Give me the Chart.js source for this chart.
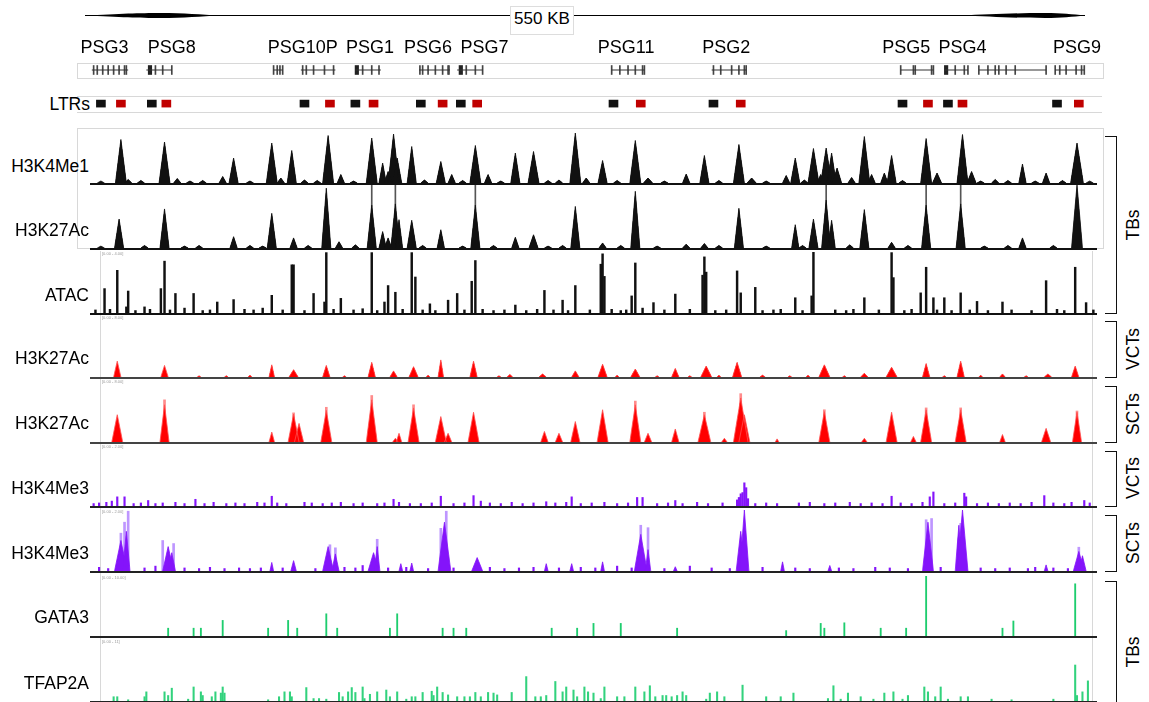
<!DOCTYPE html>
<html>
<head>
<meta charset="utf-8">
<script src="https://cdn.jsdelivr.net/npm/chart.js@4.4.0/dist/chart.umd.min.js"></script>
<style>
  body { margin: 0; background: #fff; width: 1149px; height: 702px; overflow: hidden; position: relative;
         font-family: "Liberation Sans", Arial, sans-serif; color: #000; }
  canvas { position: absolute; }
  .lbl { position: absolute; left: 0; width: 89px; text-align: right; font-size: 17.5px; line-height: 20px; white-space: nowrap; }
  .gene { position: absolute; top: 37px; font-size: 18px; line-height: 20px; transform: translateX(-50%); white-space: nowrap; }
  .rng { position: absolute; left: 102px; font-size: 4px; line-height: 4px; color: #999; }
  .brk { position: absolute; left: 1105px; width: 11px; border: 1.5px solid #111; border-left: none; }
  .side { position: absolute; left: 1133px; font-size: 17.5px; line-height: 20px; white-space: nowrap;
          transform: translate(-50%, -50%) rotate(-90deg); }
  .box { position: absolute; border: 1px solid #d8d8d8; }
</style>
</head>
<body>
<svg style="position:absolute;left:0;top:0" width="1149" height="40">
  <line x1="85" y1="15.5" x2="1085" y2="15.5" stroke="#000" stroke-width="1"/>
  <path d="M85 15.5 C120 13.8 140 13 160 13 C185 13 200 14.6 220 15.5 C200 16.4 185 18 160 18 C140 18 120 17.2 85 15.5 Z" fill="#000"/>
  <path d="M960 15.5 C990 14.6 1010 13 1045 13 C1062 13 1072 14.2 1085 15.5 C1072 16.8 1062 18 1045 18 C1010 18 990 16.4 960 15.5 Z" fill="#000"/>
</svg>
<div class="box" style="left:510px;top:6px;width:62px;height:27px;background:#fff;border-color:#ddd;"></div>
<div style="position:absolute;left:510px;top:9px;width:64px;text-align:center;font-size:17px;line-height:20px;">550 KB</div>

<div class="box" style="left:77px;top:63px;width:1025px;height:14px;"></div>
<div class="box" style="left:77px;top:96px;width:1025px;height:15px;border-left:none;border-right:none;"></div>
<div class="lbl" style="top:94px;width:90px;">LTRs</div>

<div class="box" style="left:77px;top:128px;width:1025px;height:119px;"></div>
<div style="position:absolute;left:100px;top:251px;width:1px;height:451px;background:#d8d8d8;"></div>
<div style="position:absolute;left:1092px;top:251px;width:1px;height:451px;background:#d8d8d8;"></div>

<div class="brk" style="top:136px;height:176px;"></div>
<div class="brk" style="top:321px;height:55px;"></div>
<div class="brk" style="top:386px;height:55px;"></div>
<div class="brk" style="top:451px;height:54px;"></div>
<div class="brk" style="top:515px;height:55px;"></div>
<div class="brk" style="top:581px;height:140px;"></div>
<div class="side" style="top:225px;">TBs</div>
<div class="side" style="top:349px;">VCTs</div>
<div class="side" style="top:414px;">SCTs</div>
<div class="side" style="top:478px;">VCTs</div>
<div class="side" style="top:543px;">SCTs</div>
<div class="side" style="top:652px;">TBs</div>

<script>
// window is 550 kb wide; positions below are in kb from the left edge
const kbMax = 554;

const geneNames = ["PSG3", "PSG8", "PSG10P", "PSG1", "PSG6", "PSG7", "PSG11", "PSG2", "PSG5", "PSG4", "PSG9"];
const geneLabelKb = [8, 45, 117, 154, 186, 217, 295, 350, 449, 480, 543];
const geneSpans = [[1, 21], [31, 45], [101, 106], [116, 135], [146, 160], [181, 198], [202, 216],
  [287, 305], [342, 361], [446, 464], [470, 483], [489, 526], [531, 547]];
const geneExons = [2, 4, 7, 10, 13, 16, 19, 20, 36, 40, 45, 101, 103, 104.5, 106, 117, 119, 123, 129, 134,
  150, 155, 159, 181.5, 183, 186, 190, 194, 197, 197.5, 207, 212, 216, 287, 291.5, 296, 300, 304, 305,
  343, 347, 353, 357, 360, 361, 446, 453, 454, 463, 464, 476, 481, 483, 489, 494, 498, 500, 504, 509, 526,
  531, 533.5, 537, 542.5, 545.5, 547];
const geneThickExons = [33, 146.8, 204, 471];
const ltrBlack = [6, 34, 118, 146, 182, 204, 288, 343, 447, 472, 532];
const ltrRed = [17, 42, 132, 156, 194, 213, 303, 358, 461, 480, 544];

const trackNames = ["H3K4Me1", "H3K27Ac", "ATAC", "H3K27Ac", "H3K27Ac", "H3K4Me3", "H3K4Me3", "GATA3", "TFAP2A"];
const trackRange = ["", "", "[0.00 - 4.00]", "[0.00 - 8.00]", "[0.00 - 8.00]", "[0.00 - 2.00]", "[0.00 - 2.00]", "[0.00 - 10.00]", "[0.00 - 11]"];

// peaks: [kb, height %, half width kb]
const tbH3k4me1 = [[17, 87, 3], [21, 7, 2], [41, 82, 3], [48, 9, 2], [73, 13, 2], [79, 50, 2.5], [100, 80, 3], [105, 10, 2],
  [111, 65, 2.5], [131, 95, 3], [138, 17, 2], [155, 90, 3], [161, 40, 2], [164, 23, 2], [167, 98, 3], [169, 50, 2.5],
  [177, 73, 2.5], [193, 43, 2.5], [199, 17, 2], [212, 75, 3], [219, 17, 2], [234, 60, 2.5], [244, 63, 3], [267, 100, 3],
  [273, 10, 2], [282, 45, 2.5], [300, 85, 3], [307, 10, 2.5], [328, 18, 2], [338, 55, 2.5], [357, 77, 3], [364, 10, 2.5],
  [383, 15, 2], [388, 50, 2.5], [398, 69, 3], [402, 17, 2], [405, 70, 3], [408, 60, 2.5], [411, 30, 2.5], [419, 11, 2],
  [426, 93, 3], [430, 17, 2], [437, 20, 2], [441, 55, 2.5], [460, 89, 3], [466, 20, 2.5], [480, 97, 3], [485, 23, 2.5],
  [498, 7, 2], [513, 38, 2], [526, 20, 2], [543, 80, 3.5],
  [6, 4, 2], [28, 5, 2], [55, 4, 2], [62, 5, 2], [88, 4, 2], [118, 6, 2], [125, 5, 2], [145, 4, 2], [184, 6, 2],
  [205, 5, 2], [226, 4, 2], [252, 5, 2], [258, 6, 2], [290, 5, 2], [316, 4, 2], [346, 5, 2], [372, 4, 2], [393, 6, 2],
  [447, 5, 2], [490, 4, 2], [505, 5, 2], [520, 4, 2], [535, 5, 2], [550, 4, 2]];

const tbH3k27ac = [[16, 46, 2.5], [41, 62, 2.5], [79, 18, 2], [100, 55, 2.5], [112, 16, 2], [130, 95, 2.5], [137, 10, 2],
  [155, 68, 2.5], [161, 26, 2], [164, 16, 2], [168, 70, 2.5], [170, 45, 2], [177, 44, 2.5], [193, 29, 2], [212, 68, 2.5],
  [234, 17, 2], [244, 21, 2.5], [267, 66, 2.5], [282, 8, 2], [300, 90, 2.5], [328, 6, 2], [338, 7, 2], [357, 63, 2.5],
  [388, 37, 2], [398, 46, 2.5], [405, 76, 2.5], [408, 44, 2], [426, 61, 2.5], [441, 9, 2], [460, 68, 2.5], [479, 70, 2.5],
  [513, 16, 2], [543, 100, 3],
  [6, 3, 2], [30, 4, 2], [52, 3, 2], [60, 4, 2], [88, 4, 2], [95, 3, 2], [120, 4, 2], [146, 5, 2], [183, 4, 2],
  [205, 3, 2], [222, 4, 2], [252, 3, 2], [260, 4, 2], [292, 4, 2], [312, 3, 2], [346, 4, 2], [372, 3, 2], [392, 4, 2],
  [418, 5, 2], [450, 4, 2], [492, 3, 2], [505, 4, 2], [530, 4, 2]];
const tbH3k27acClipped = [[155, 100], [168, 100], [212, 100], [405, 100], [460, 100], [479, 100]];

// spikes: [kb, height %]
const tbAtac = [[3, 5], [8, 40], [11, 6], [15, 70], [20, 10], [21, 36], [25, 4], [30, 10], [33, 6], [39, 40], [41, 85],
  [44, 5], [47, 32], [52, 8], [57, 32], [62, 4], [66, 5], [70, 18], [79, 22], [85, 6], [90, 5], [95, 8], [100, 29],
  [106, 5], [111, 79], [112, 79], [118, 4], [123, 32], [129, 18], [130, 99], [134, 6], [138, 24], [145, 5], [150, 7],
  [155, 99], [158, 4], [162, 18], [164, 45], [168, 34], [172, 6], [177, 99], [179, 59], [183, 5], [187, 15], [190, 4],
  [197, 21], [202, 32], [206, 5], [210, 52], [212, 86], [216, 6], [222, 4], [228, 5], [234, 13], [240, 4], [246, 6],
  [250, 37], [255, 5], [260, 21], [263, 4], [267, 45], [275, 5], [281, 80], [282, 97], [283, 60], [287, 6], [292, 4],
  [295, 5], [298, 28], [300, 82], [304, 8], [310, 17], [316, 5], [322, 31], [330, 6], [337, 62], [338, 92],
  [339, 67], [344, 4], [350, 5], [356, 69], [358, 33], [366, 42], [370, 4], [376, 5], [380, 6], [388, 25], [392, 4],
  [397, 28], [398, 100], [410, 5], [416, 4], [420, 6], [426, 25], [434, 5], [441, 99], [442, 58], [448, 4], [452, 6],
  [457, 33], [460, 75], [464, 25], [466, 5], [470, 25], [474, 4], [479, 33], [484, 5], [488, 19], [494, 4], [502, 18],
  [507, 5], [518, 4], [526, 53], [532, 6], [536, 4], [542, 75], [548, 17], [552, 5]];

const vctH3k27ac = [[15, 26, 2], [41, 19, 2], [100, 20, 1.5], [112, 12, 2.5], [130, 19, 2], [155, 24, 2], [167, 10, 2],
  [178, 17, 2.5], [193, 28, 1.5], [211, 26, 2], [231, 4, 1.5], [249, 5, 2], [267, 10, 2], [282, 21, 2.5], [300, 13, 2.5],
  [322, 14, 2], [339, 18, 3], [356, 24, 2.5], [370, 3, 1.5], [404, 20, 3], [426, 6, 2], [441, 16, 3], [460, 22, 2],
  [479, 26, 2], [502, 5, 1.5], [527, 5, 2], [542, 18, 2],
  [60, 2, 1], [75, 2, 1], [88, 3, 1], [140, 2, 1], [186, 3, 1], [225, 2, 1], [290, 3, 1], [312, 2, 1], [330, 2, 1],
  [346, 3, 1], [385, 2, 1], [395, 3, 1], [415, 2, 1], [470, 2, 1], [490, 3, 1], [515, 2, 1]];

const sctH3k27ac = [[15, 44, 3], [41, 60, 2.5], [100, 16, 1.5], [112, 45, 3], [115, 30, 2.5], [130, 51, 3], [155, 68, 3],
  [168, 6, 1.5], [170, 14, 1.5], [178, 55, 3], [193, 41, 3], [197, 14, 2], [211, 48, 3], [250, 17, 2], [258, 14, 2],
  [267, 33, 2.5], [282, 52, 3], [300, 60, 3], [307, 14, 2], [322, 21, 2], [338, 44, 3.5], [349, 6, 1.5], [358, 71, 4],
  [360, 44, 3], [378, 5, 1], [404, 49, 3], [426, 6, 1.5], [441, 48, 3], [453, 9, 1.5], [460, 52, 3], [479, 52, 3],
  [502, 12, 1.5], [526, 22, 2.5], [543, 48, 2.5]];
const sctH3k27acTips = [[41, 68], [112, 47], [130, 56], [155, 75], [178, 60], [300, 66], [338, 48], [358, 78],
  [404, 52], [460, 55], [479, 55], [543, 50]];

const vctH3k4me3 = [[2, 4], [5, 5], [9, 6], [12, 8], [15, 15], [19, 15], [24, 4], [28, 5], [32, 9], [36, 4], [40, 5],
  [47, 6], [52, 4], [58, 11], [63, 4], [68, 6], [75, 4], [80, 5], [85, 4], [92, 6], [96, 5], [100, 16], [103, 5],
  [108, 4], [118, 6], [122, 5], [128, 4], [133, 5], [138, 6], [145, 4], [150, 5], [158, 4], [162, 5], [167, 11],
  [170, 6], [176, 4], [182, 4], [188, 5], [193, 16], [200, 4], [206, 5], [211, 17], [215, 8], [220, 5], [226, 4],
  [232, 6], [238, 4], [244, 5], [251, 7], [256, 5], [262, 6], [265, 15], [270, 4], [276, 5], [283, 6], [290, 4],
  [296, 5], [301, 14], [304, 14], [312, 4], [318, 5], [322, 9], [326, 4], [334, 6], [340, 4], [348, 5], [356, 10],
  [357, 14], [358, 20], [359, 22], [360, 38], [361, 30], [362, 12], [366, 4], [372, 5], [378, 4], [390, 5], [396, 6],
  [404, 4], [410, 5], [418, 6], [424, 4], [430, 5], [436, 4], [441, 16], [446, 5], [452, 4], [458, 6], [462, 15],
  [464, 23], [470, 4], [476, 5], [481, 21], [482, 15], [488, 4], [494, 5], [500, 4], [506, 5], [512, 4], [518, 6],
  [525, 17], [530, 5], [536, 4], [540, 6], [547, 9], [550, 5]];

const sctH3k4me3 = [[17, 50, 3.5], [20, 65, 2], [43, 40, 3], [45, 30, 2], [100, 14, 1], [112, 17, 1.5], [131, 40, 3],
  [135, 28, 2], [156, 30, 3], [158, 40, 1.5], [171, 12, 1], [177, 13, 1], [195, 80, 3.5], [213, 22, 3], [251, 12, 1],
  [265, 12, 1], [282, 15, 1], [303, 60, 3.5], [307, 35, 1.5], [322, 7, 1], [358, 65, 2.5], [360, 100, 2.5], [381, 15, 1],
  [407, 9, 1], [461, 80, 3], [478, 75, 2], [480, 100, 3], [526, 10, 1], [544, 32, 3], [546, 25, 2]];
const sctH3k4me3Tips = [[21, 98], [19, 80], [17, 62], [40, 50], [46, 45], [132, 43], [135, 38], [158, 52], [196, 98],
  [193, 70], [303, 75], [307, 71], [460, 84], [463, 86], [479, 78], [544, 39]];
const sctH3k4me3Low = [[5, 6], [10, 4], [30, 5], [36, 8], [52, 5], [60, 4], [66, 6], [74, 4], [82, 5], [88, 4], [94, 5],
  [106, 5], [124, 4], [140, 6], [146, 5], [150, 9], [164, 5], [174, 6], [186, 4], [200, 5], [220, 6], [228, 4], [236, 5],
  [244, 6], [258, 5], [270, 6], [278, 5], [290, 8], [298, 5], [316, 4], [330, 8], [342, 5], [352, 4], [370, 6], [388, 5],
  [396, 4], [412, 5], [420, 4], [432, 6], [440, 5], [450, 4], [468, 6], [490, 5], [498, 4], [506, 5], [516, 4], [520, 6],
  [530, 5], [538, 4]];

const tbGata3 = [[43, 13], [57, 13], [61, 13], [73, 26], [98, 13], [109, 26], [114, 13], [130, 37], [136, 13], [165, 13],
  [169, 37], [194, 13], [200, 13], [207, 13], [254, 13], [268, 13], [277, 21], [292, 21], [323, 13], [383, 9], [402, 21],
  [404, 13], [415, 22], [435, 13], [449, 13], [460, 100], [502, 13], [508, 25], [542, 87]];

const tbTfap2a = [[13, 7], [15, 7], [21, 2], [30, 7], [31, 15], [41, 15], [43, 9], [45, 21], [54, 3], [57, 23], [61, 15],
  [62, 9], [67, 7], [69, 15], [72, 13], [73, 23], [74, 13], [98, 2], [104, 7], [107, 15], [110, 15], [111, 7], [119, 22],
  [123, 4], [126, 4], [130, 3], [137, 14], [139, 7], [142, 15], [144, 22], [146, 14], [150, 23], [151, 4], [154, 11],
  [158, 15], [163, 18], [165, 7], [169, 15], [174, 3], [177, 7], [179, 7], [183, 14], [188, 16], [189, 9], [191, 23],
  [194, 14], [197, 10], [202, 7], [206, 7], [209, 7], [212, 14], [215, 7], [219, 14], [222, 13], [224, 10], [232, 14],
  [240, 40], [245, 7], [248, 7], [251, 9], [256, 32], [260, 15], [262, 23], [266, 18], [268, 7], [272, 23], [274, 15],
  [277, 13], [281, 4], [283, 23], [290, 7], [294, 7], [300, 23], [305, 15], [308, 25], [311, 7], [315, 9], [317, 9],
  [320, 7], [323, 9], [326, 15], [328, 9], [339, 3], [341, 13], [345, 15], [349, 7], [359, 26], [372, 7], [380, 7],
  [387, 13], [406, 4], [409, 25], [413, 3], [417, 13], [424, 7], [431, 3], [437, 13], [442, 15], [447, 3], [450, 9],
  [459, 23], [461, 15], [465, 7], [468, 23], [472, 3], [479, 7], [483, 7], [496, 3], [507, 2], [530, 3], [542, 59],
  [543, 9], [546, 15], [549, 33]];

// layout of the track panels (pixels)
const trackTop = [133, 185, 252, 316, 380, 445, 510, 576, 640];
const trackBase = [183, 248, 313, 377, 442, 506, 571, 636, 701];
const trackLabelY = [166, 230, 295, 358, 423, 488, 553, 617, 683];

// each peak becomes its own segment (null point breaks the line so every peak fills on its own)
function triangles(list) {
  let pts = [];
  list.forEach(p => {
    pts.push({ x: p[0] - p[2], y: 0 }, { x: p[0], y: p[1] }, { x: p[0] + p[2], y: 0 }, { x: p[0] + p[2], y: null });
  });
  return pts;
}

function spikes(list) {
  return list.map(p => ({ x: p[0], y: p[1] }));
}

function peakSet(list, color, edge) {
  return {
    type: "line", data: triangles(list), fill: "origin", backgroundColor: color, spanGaps: false,
    borderColor: edge || color, borderWidth: 0.8, pointRadius: 0, tension: 0,
  };
}

function spikeSet(list, color, thick) {
  return { type: "bar", data: spikes(list), backgroundColor: color, barThickness: thick, grouped: false, borderWidth: 0 };
}

const baseline = {
  id: "baseline",
  afterDatasetsDraw(chart, args, opts) {
    let ctx = chart.ctx;
    let y = chart.scales.y.getPixelForValue(0);
    ctx.save();
    ctx.strokeStyle = opts.color;
    ctx.lineWidth = 2;
    ctx.beginPath();
    ctx.moveTo(chart.chartArea.left, y + 1);
    ctx.lineTo(chart.chartArea.right, y + 1);
    ctx.stroke();
    ctx.restore();
  },
};

function baseOptions(yMax, extra) {
  return {
    responsive: false,
    animation: false,
    events: [],
    layout: { padding: { left: 0, right: 0, top: 0, bottom: extra } },
    plugins: { legend: { display: false }, tooltip: { enabled: false } },
    scales: {
      x: { type: "linear", min: 0, max: kbMax, display: false, offset: false },
      y: { min: 0, max: yMax, display: false },
    },
  };
}

function makeCanvas(left, top, w, h) {
  let cv = document.createElement("canvas");
  cv.width = w;
  cv.height = h;
  cv.style.left = left + "px";
  cv.style.top = top + "px";
  document.body.appendChild(cv);
  return cv;
}

// gene models + LTRs
let hdrCanvas = makeCanvas(90, 56, 1007, 56);
let intronPts = [];
geneSpans.forEach(s => {
  intronPts.push({ x: s[0], y: 3 }, { x: s[1], y: 3 }, { x: s[1] + 0.1, y: null });
});
let hdr = new Chart(hdrCanvas, {
  type: "bar",
  data: {
    datasets: [
      { type: "line", data: intronPts, borderColor: "#333", borderWidth: 1, pointRadius: 0, spanGaps: false, fill: false },
      { data: geneExons.map(x => ({ x: x, y: [2.68, 3.32] })), backgroundColor: "#444", barThickness: 1, grouped: false },
      { data: geneThickExons.map(x => ({ x: x, y: [2.68, 3.32] })), backgroundColor: "#222", barThickness: 3.5, grouped: false },
      { data: ltrBlack.map(x => ({ x: x, y: [0.35, 0.85] })), backgroundColor: "#111", barThickness: 9, grouped: false },
      { data: ltrRed.map(x => ({ x: x, y: [0.35, 0.85] })), backgroundColor: "#c00000", barThickness: 9, grouped: false },
    ],
  },
  options: baseOptions(4, 0),
});

geneNames.forEach((g, i) => {
  let d = document.createElement("div");
  d.className = "gene";
  d.textContent = g;
  d.style.left = 90 + hdr.scales.x.getPixelForValue(geneLabelKb[i]) + "px";
  document.body.appendChild(d);
});

// signal tracks
const black = "#111";
const red = "rgb(255, 0, 0)";
const purple = "rgb(132, 20, 250)";
const green = "rgb(30, 205, 110)";

const trackSets = [
  [peakSet(tbH3k4me1, black)],
  [peakSet(tbH3k27ac, black), spikeSet(tbH3k27acClipped, "#555", 1)],
  [spikeSet(tbAtac, black, 1.8)],
  [peakSet(vctH3k27ac, red, "rgb(255, 80, 80)")],
  [peakSet(sctH3k27ac, red, "rgb(255, 80, 80)"), spikeSet(sctH3k27acTips, "rgb(255, 140, 140)", 2)],
  [spikeSet(vctH3k4me3, purple, 1.5)],
  [peakSet(sctH3k4me3, purple), spikeSet(sctH3k4me3Tips, "rgb(190, 150, 255)", 2), spikeSet(sctH3k4me3Low, purple, 1.5)],
  [spikeSet(tbGata3, green, 1.2)],
  [spikeSet(tbTfap2a, "rgb(50, 210, 125)", 1.4)],
];
const baseColors = ["#111", "#111", "#111", "#444", "#444", "#222", "#222", "#222", "#222"];

trackNames.forEach((name, i) => {
  let h = trackBase[i] - trackTop[i];
  let cv = makeCanvas(90, trackTop[i], 1007, h + 3);
  let opts = baseOptions(100, 3);
  opts.plugins.baseline = { color: baseColors[i] };
  new Chart(cv, { type: "bar", data: { datasets: trackSets[i] }, options: opts, plugins: [baseline] });

  let lab = document.createElement("div");
  lab.className = "lbl";
  lab.textContent = name;
  lab.style.top = trackLabelY[i] - 10 + "px";
  document.body.appendChild(lab);

  if (trackRange[i]) {
    let r = document.createElement("div");
    r.className = "rng";
    r.textContent = trackRange[i];
    r.style.top = trackTop[i] + "px";
    document.body.appendChild(r);
  }
});
</script>
</body>
</html>
